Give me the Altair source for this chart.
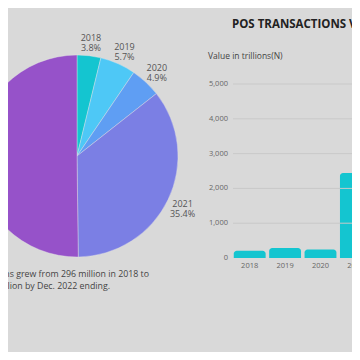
import altair as alt
import pandas as pd

# Pie data (share of total by year)
pie_years = ["2018", "2019", "2020", "2021", "2022"]
pie_shares = [3.8, 5.7, 4.9, 35.4, 50.2]
pie_colors = ["#14c5d0", "#4ec8f6", "#5f9ef3", "#7b7fe4", "#9652c9"]
pie_label_years = ["2018", "2019", "2020", "2021"]  # labels visible in the crop

# Bar data (value in trillions)
bar_years = ["2018", "2019", "2020", "2021"]
bar_values = [210, 290, 245, 2440]
bar_domain = ["2018", "2019", "2020", "2021", "2022"]
y_ticks = [0, 1000, 2000, 3000, 4000, 5000]
y_tick_labels = ["0", "1,000", "2,000", "3,000", "4,000", "5,000"]

title_text = "POS TRANSACTIONS VALUE"
axis_title = "Value in trillions(N)"
caption_1 = "The volume of POS transactions grew from 296 million in 2018 to"
caption_2 = "1,107 million by Dec. 2022 ending."

W, H = 344, 344
BG = "#d9d9d9"
FONT = "Open Sans"

pie_df = pd.DataFrame({
    "year": pie_years,
    "share": pie_shares,
    "label": [f"{y}\n{s}%" if y in pie_label_years else "" for y, s in zip(pie_years, pie_shares)],
})
bar_df = pd.DataFrame({"year": bar_years, "value": bar_values})
grid_df = pd.DataFrame({"v": y_ticks[1:]})
tick_df = pd.DataFrame({"v": y_ticks, "lab": y_tick_labels})
xlab_df = pd.DataFrame({"year": bar_years})

cx, cy, R = 69, 148, 101

color_scale = alt.Scale(domain=pie_years, range=pie_colors)

pie = alt.Chart(pie_df).mark_arc(clip=True, stroke="#e6e6e6", strokeWidth=0.4).encode(
    theta=alt.Theta("share:Q", stack=True),
    color=alt.Color("year:N", scale=color_scale, legend=None),
    order=alt.Order("year:N"),
    x=alt.value(cx), y=alt.value(cy),
    radius=alt.value(R),
)

pie_labels = alt.Chart(pie_df).mark_text(
    font=FONT, fontSize=9, color="#555555", lineBreak="\n", lineHeight=10,
    align="center", baseline="middle", clip=True,
).encode(
    theta=alt.Theta("share:Q", stack=True),
    order=alt.Order("year:N"),
    x=alt.value(cx), y=alt.value(cy - 2),
    radius=alt.value(117),
    text="label:N",
)

yscale = alt.Scale(domain=[0, 5000], range=[250, 76])
xscale = alt.Scale(type="band", domain=bar_domain, range=[224, 401],
                   paddingInner=0.1, paddingOuter=0.05)

grid = alt.Chart(grid_df).mark_rule(color="#c9c9c9", strokeWidth=1).encode(
    y=alt.Y("v:Q", scale=yscale, axis=None),
    x=alt.value(225), x2=alt.value(W),
)

bars = alt.Chart(bar_df).mark_bar(
    fill="#14c5d0", cornerRadiusTopLeft=3, cornerRadiusTopRight=3
).encode(
    x=alt.X("year:N", scale=xscale, axis=None),
    y=alt.Y("value:Q", scale=yscale, axis=None, stack=None),
    y2=alt.datum(0),
)

ylabels = alt.Chart(tick_df).mark_text(
    font=FONT, fontSize=7.5, color="#666666", align="right", baseline="middle"
).encode(
    y=alt.Y("v:Q", scale=yscale, axis=None),
    x=alt.value(220),
    text="lab:N",
)

xlabels = alt.Chart(xlab_df).mark_text(
    font=FONT, fontSize=7.5, color="#666666", align="center", baseline="middle"
).encode(
    x=alt.X("year:N", scale=xscale, axis=None, bandPosition=0.5),
    y=alt.value(258),
    text="year:N",
)

title = alt.Chart(pd.DataFrame({"t": [title_text]})).mark_text(
    font=FONT, fontSize=11.5, fontWeight="bold", color="#222222", align="left", baseline="middle"
).encode(x=alt.value(224), y=alt.value(17), text="t:N")

ytitle = alt.Chart(pd.DataFrame({"t": [axis_title]})).mark_text(
    font=FONT, fontSize=8.5, color="#444444", align="left", baseline="middle"
).encode(x=alt.value(200), y=alt.value(48), text="t:N")

cap1 = alt.Chart(pd.DataFrame({"t": [caption_1]})).mark_text(
    font=FONT, fontSize=8.8, color="#444444", align="right", baseline="middle"
).encode(x=alt.value(141), y=alt.value(266), text="t:N")

cap2 = alt.Chart(pd.DataFrame({"t": [caption_2]})).mark_text(
    font=FONT, fontSize=8.8, color="#444444", align="right", baseline="middle"
).encode(x=alt.value(102), y=alt.value(278), text="t:N")

chart = alt.layer(
    bars, pie, pie_labels, grid, ylabels, xlabels, title, ytitle, cap1, cap2
).resolve_scale(color="independent").properties(
    width=W, height=H, background=BG, padding=0,
    autosize=alt.AutoSizeParams(type="none"),
).configure_view(stroke=None)

chart.save("out.html", embed_options={"renderer": "svg", "actions": False})
